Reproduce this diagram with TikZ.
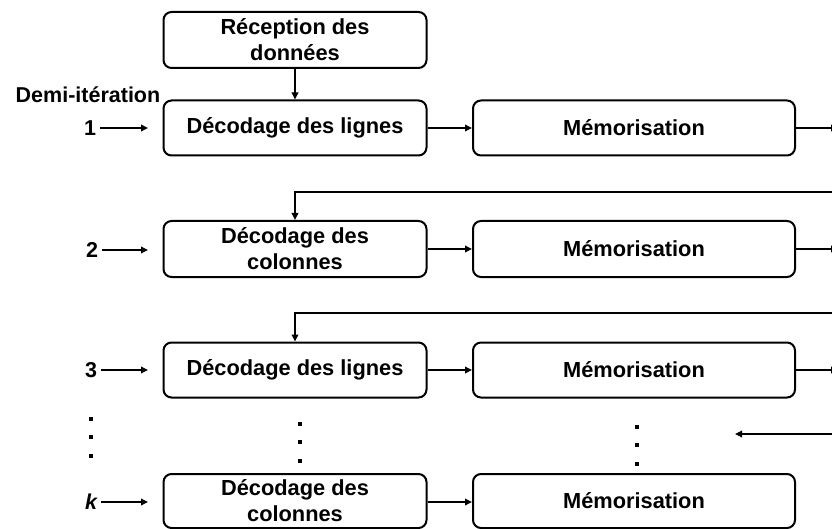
\documentclass[tikz,border=0pt]{standalone}
\usepackage{fontspec}
\setmainfont{Liberation Sans}
\usetikzlibrary{arrows.meta}
\tikzset{
  box/.style={draw, line width=2pt, rounded corners=8pt, minimum height=55pt, inner sep=0pt, align=center, font=\fontsize{21.8}{26}\selectfont\bfseries},
  dbox/.style={box, minimum width=263pt},
  mbox/.style={box, minimum width=322pt},
  arr/.style={line width=2pt, -{Triangle[length=7pt,width=6.5pt]}},
  lbl/.style={inner sep=0pt, font=\fontsize{21.5}{25}\selectfont\bfseries},
  dotm/.style={fill, inner sep=0pt, minimum size=3.5pt}
}
\begin{document}
\begin{tikzpicture}[x=1pt,y=-1pt]
\useasboundingbox (0,0) rectangle (832,529);
% boxes
\node[dbox, minimum height=56pt] (rec) at (295,40) {Réception des\\données};
\node[dbox] (d1) at (295,128) {Décodage des lignes};
\node[mbox] (m1) at (634,128) {Mémorisation};
\node[dbox, minimum height=56pt] (d2) at (295,249) {Décodage des\\colonnes};
\node[mbox, minimum height=56pt] (m2) at (634,249) {Mémorisation};
\node[dbox] (d3) at (295,370) {Décodage des lignes};
\node[mbox] (m3) at (634,370) {Mémorisation};
\node[dbox, minimum height=54pt] (dk) at (295,501) {Décodage des\\colonnes};
\node[mbox, minimum height=54pt] (mk) at (634,501) {Mémorisation};
% labels
\node[lbl] (demi) at (88,95) {Demi-itération};
\node[lbl] (n1) at (90,128) {1};
\node[lbl] (n2) at (92,250) {2};
\node[lbl] (n3) at (91,370) {3};
\node[lbl] (nk) at (91,502) {\itshape k};
% coordinates for free ends
\coordinate (a1) at (148,128);
\coordinate (a2) at (148,250);
\coordinate (a3) at (148,370);
\coordinate (ak) at (148,502);
\coordinate (r1) at (838,128);
\coordinate (r2) at (838,249);
\coordinate (r3) at (838,370);
\coordinate (f2) at (840,192);
\coordinate (f3) at (840,313);
\coordinate (lin) at (840,434);
\coordinate (lout) at (735,434);
% connectors
\draw[arr] (rec) -- (d1);
\draw[arr] (n1.east) ++(4,0) -- (a1);
\draw[arr] (n2.east) ++(4,0) -- (a2);
\draw[arr] (n3.east) ++(4,0) -- (a3);
\draw[arr] (nk.east) ++(4,0) -- (ak);
\draw[arr] (d1) -- (m1);
\draw[arr] (d2) -- (m2);
\draw[arr] (d3) -- (m3);
\draw[arr] (dk.east |- ak) -- (mk.west |- ak);
\draw[arr] (m1) -- (r1);
\draw[arr] (m2) -- (r2);
\draw[arr] (m3) -- (r3);
\draw[arr] (f2) -| (d2.north);
\draw[arr] (f3) -| (d3.north);
\draw[arr] (lin) -- (lout);
% dots
\foreach \y in {419,437,456} \node[dotm] at (91,\y) {};
\foreach \y in {424,442,461} \node[dotm] at (300,\y) {};
\foreach \y in {427,445,464} \node[dotm] at (637,\y) {};
\end{tikzpicture}
\end{document}
